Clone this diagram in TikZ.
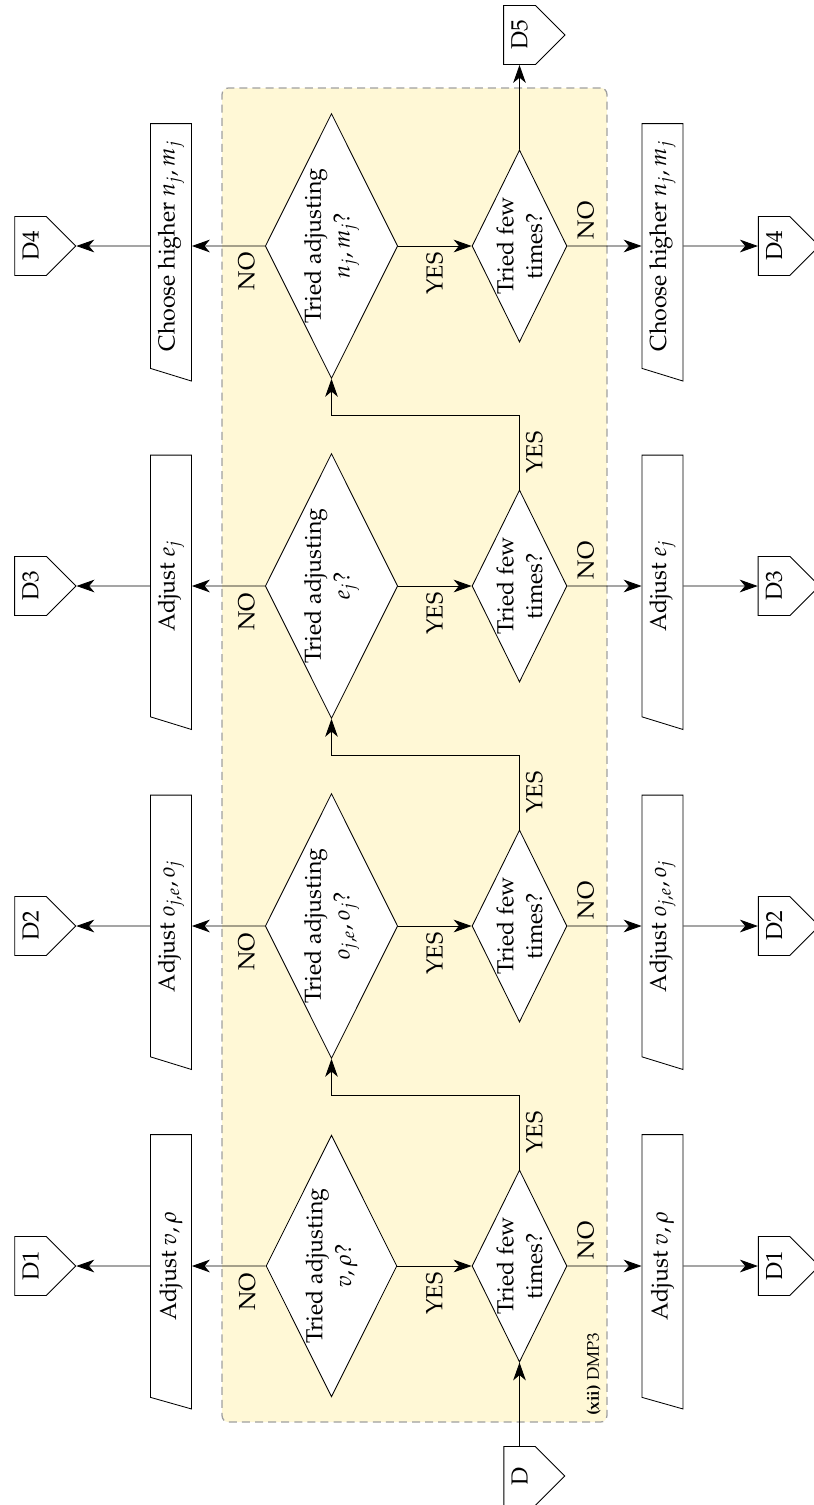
\documentclass[tikz,border=0pt]{standalone}
\usepackage[T1]{fontenc}
\usepackage{mathpazo}
\usepackage{amsmath}
\usetikzlibrary{shapes.geometric,shapes.symbols,arrows.meta,positioning}
\definecolor{dmpyellow}{RGB}{255,248,214}

\begin{document}
\begin{tikzpicture}[x=0.4739pt,y=-0.4739pt,
	every node/.style={font=\fontsize{11}{13.6}\selectfont},
	test/.style={diamond,draw,fill=white,rotate=90,aspect=2,inner sep=0pt,align=center,minimum width=124pt,minimum height=62pt},
	few/.style={test,minimum width=91pt,minimum height=45pt},
	act/.style={trapezium,draw,fill=white,rotate=90,trapezium left angle=70,trapezium right angle=90,trapezium stretches=true,trapezium stretches body=true,minimum width=130pt,minimum height=19.4pt,inner sep=2pt},
	goto/.style={signal,draw,fill=white,rotate=90,signal to=south,signal pointer angle=90,minimum width=28pt,inner xsep=2pt,inner ysep=3.6pt},
	lbl/.style={rotate=90,inner sep=3pt},
	>={Stealth[length=8.5pt,width=6pt,inset=2.5pt]}]
	\useasboundingbox (0,0) rectangle (814,1505);
	% DMP3 block
	\node[draw=gray!75,line width=0.6pt,dash pattern=on 3.8pt off 2.4pt,fill=dmpyellow,rounded corners=3pt,minimum width=182.4pt,minimum height=632.2pt,inner sep=0pt] (dmp) at (414.5,755) {};
	\node[lbl,anchor=south west,inner sep=3pt,font=\fontsize{8}{9.5}\selectfont] (dmplabel) at (dmp.south east) {\textbf{(xii)} DMP3};
	% questions
	\node[test] (try1) at (331.5,1266) {Tried adjusting\\ $v,\rho$?};
	\node[test] (try2) at (331.5,926) {Tried adjusting\\ $o_{j,e},o_j$?};
	\node[test] (try3) at (331.5,586) {Tried adjusting\\ $e_j$?};
	\node[test] (try4) at (331.5,246) {Tried adjusting\\ $n_j,m_j$?};
	\node[few] (few1) at (519.5,1266) {Tried few\\ times?};
	\node[few] (few2) at (519.5,926) {Tried few\\ times?};
	\node[few] (few3) at (519.5,586) {Tried few\\ times?};
	\node[few] (few4) at (519.5,246) {Tried few\\ times?};
	% actions
	\node[act] (adjA1) at (171,1266) {Adjust $v,\rho$};
	\node[act] (adjA2) at (171,926) {Adjust $o_{j,e},o_j$};
	\node[act] (adjA3) at (171,586) {Adjust $e_j$};
	\node[act,minimum width=122pt] (adjA4) at (171,246) {Choose higher $n_j,m_j$};
	\node[act] (adjB1) at (662.5,1266) {Adjust $v,\rho$};
	\node[act] (adjB2) at (662.5,926) {Adjust $o_{j,e},o_j$};
	\node[act] (adjB3) at (662.5,586) {Adjust $e_j$};
	\node[act,minimum width=122pt] (adjB4) at (662.5,246) {Choose higher $n_j,m_j$};
	% jumps
	\node[goto] (dA1) at (30.5,1266) {D1};
	\node[goto] (dA2) at (30.5,926) {D2};
	\node[goto] (dA3) at (30.5,586) {D3};
	\node[goto] (dA4) at (30.5,246) {D4};
	\node[goto] (dB1) at (774,1266) {D1};
	\node[goto] (dB2) at (774,926) {D2};
	\node[goto] (dB3) at (774,586) {D3};
	\node[goto] (dB4) at (774,246) {D4};
	\node[goto] (d0) at (519.5,1476) {D};
	\node[goto] (d5) at (519.5,35) {D5};
	% links
	\path[->]
	(d0) edge (few1)
	(try1) edge node[lbl,pos=.25,anchor=east] {NO} (adjA1)
	edge node[lbl,anchor=east] {YES} (few1)
	(try2) edge node[lbl,pos=.25,anchor=east] {NO} (adjA2)
	edge node[lbl,anchor=east] {YES} (few2)
	(try3) edge node[lbl,pos=.25,anchor=east] {NO} (adjA3)
	edge node[lbl,anchor=east] {YES} (few3)
	(try4) edge node[lbl,pos=.25,anchor=east] {NO} (adjA4)
	edge node[lbl,anchor=east] {YES} (few4)
	(few1) edge node[lbl,pos=.25,anchor=west] {NO} (adjB1)
	(few2) edge node[lbl,pos=.25,anchor=west] {NO} (adjB2)
	(few3) edge node[lbl,pos=.25,anchor=west] {NO} (adjB3)
	(few4) edge node[lbl,pos=.25,anchor=west] {NO} (adjB4)
	(adjA1) edge (dA1) (adjA2) edge (dA2) (adjA3) edge (dA3) (adjA4) edge (dA4)
	(adjB1) edge (dB1) (adjB2) edge (dB2) (adjB3) edge (dB3) (adjB4) edge (dB4)
	(few4) edge (d5);
	\draw[->] (few1.east) -- ++(0,-74) node[lbl,midway,anchor=north] {YES} -| (try2.west);
	\draw[->] (few2.east) -- ++(0,-74) node[lbl,midway,anchor=north] {YES} -| (try3.west);
	\draw[->] (few3.east) -- ++(0,-74) node[lbl,midway,anchor=north] {YES} -| (try4.west);
\end{tikzpicture}
\end{document}
